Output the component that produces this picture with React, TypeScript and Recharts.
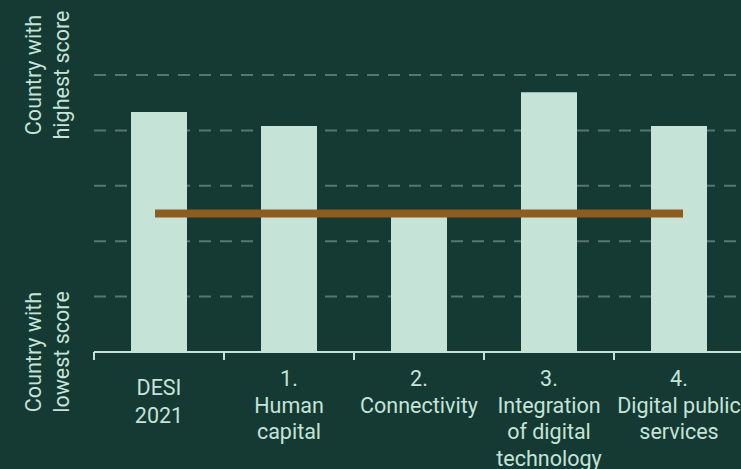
import { ComposedChart, Bar, Line, XAxis, YAxis, CartesianGrid } from 'recharts'

const categories = ['DESI 2021', '1. Human capital', '2. Connectivity', '3. Integration of digital technology', '4. Digital public services']
const tickLines = [
  ['DESI', '2021'],
  ['1.', 'Human', 'capital'],
  ['2.', 'Connectivity'],
  ['3.', 'Integration', 'of digital', 'technology'],
  ['4.', 'Digital public', 'services'],
]
const countryScore = [4.33, 4.08, 2.46, 4.69, 4.08]
const euAverage = [2.5, 2.5, 2.5, 2.5, 2.5]
const yTicks = [0, 1, 2, 3, 4, 5]
const yTickLabels: Record<number, string[]> = {
  0: ['Country with', 'lowest score'],
  5: ['Country with', 'highest score'],
}

const BG = '#143a33'
const LIGHT = '#c6e3d8'
const GRID = '#557770'
const FONT = 'Roboto, "Liberation Sans", sans-serif'

const data = categories.map((name, i) => ({ name, score: countryScore[i], eu: euAverage[i] }))

function XTick(props: any) {
  const { x, y, payload, index } = props
  const lines = tickLines[index] || []
  const half = payload && payload.offset != null ? payload.offset : 65
  const first = index === 0 ? 43 : 34
  return (
    <g>
      <line x1={x - half} y1={y} x2={x - half} y2={y + 8} stroke={LIGHT} strokeWidth={2} />
      {index === tickLines.length - 1 && (
        <line x1={x + half} y1={y} x2={x + half} y2={y + 8} stroke={LIGHT} strokeWidth={2} />
      )}
      <text textAnchor="middle" fill={LIGHT} fontSize={21.5} fontFamily={FONT}>
        {lines.map((l, i) => (
          <tspan key={i} x={x} y={y + first + i * (index === 0 ? 28 : 26.5)}>{l}</tspan>
        ))}
      </text>
    </g>
  )
}

function YTick(props: any) {
  const { x, y, payload } = props
  const lines = yTickLabels[payload.value]
  if (!lines) return null
  return (
    <g transform={`translate(${x},${y}) rotate(-90)`}>
      <text textAnchor="middle" fill={LIGHT} fontSize={21.5} fontFamily={FONT}>
        <tspan x={0} y={-53}>{lines[0]}</tspan>
        <tspan x={0} y={-25}>{lines[1]}</tspan>
      </text>
    </g>
  )
}

export default function App() {
  return (
    <div style={{ position: 'absolute', left: 0, top: 0, width: 741, height: 469, overflow: 'hidden', background: BG }}>
      <ComposedChart width={750} height={469} data={data} margin={{ top: 75, right: 6, bottom: 0, left: 0 }}>
        <CartesianGrid vertical={false} stroke={GRID} strokeWidth={2} strokeDasharray="12 9" />
        <XAxis
          dataKey="name"
          height={117}
          tickLine={false}
          tickSize={0}
          tickMargin={0}
          axisLine={{ stroke: LIGHT, strokeWidth: 2 }}
          tick={<XTick />}
          interval={0}
        />
        <YAxis
          width={94}
          domain={[0, 5]}
          ticks={yTicks}
          axisLine={false}
          tickLine={false}
          tickSize={0}
          tickMargin={0}
          tick={<YTick />}
          interval={0}
        />
        <Bar dataKey="score" fill={LIGHT} barSize={56} isAnimationActive={false} />
        <Line
          dataKey="eu"
          stroke="#8f5c20"
          strokeWidth={8}
          strokeLinecap="square"
          dot={false}
          activeDot={false}
          type="linear"
          isAnimationActive={false}
        />
      </ComposedChart>
    </div>
  )
}
